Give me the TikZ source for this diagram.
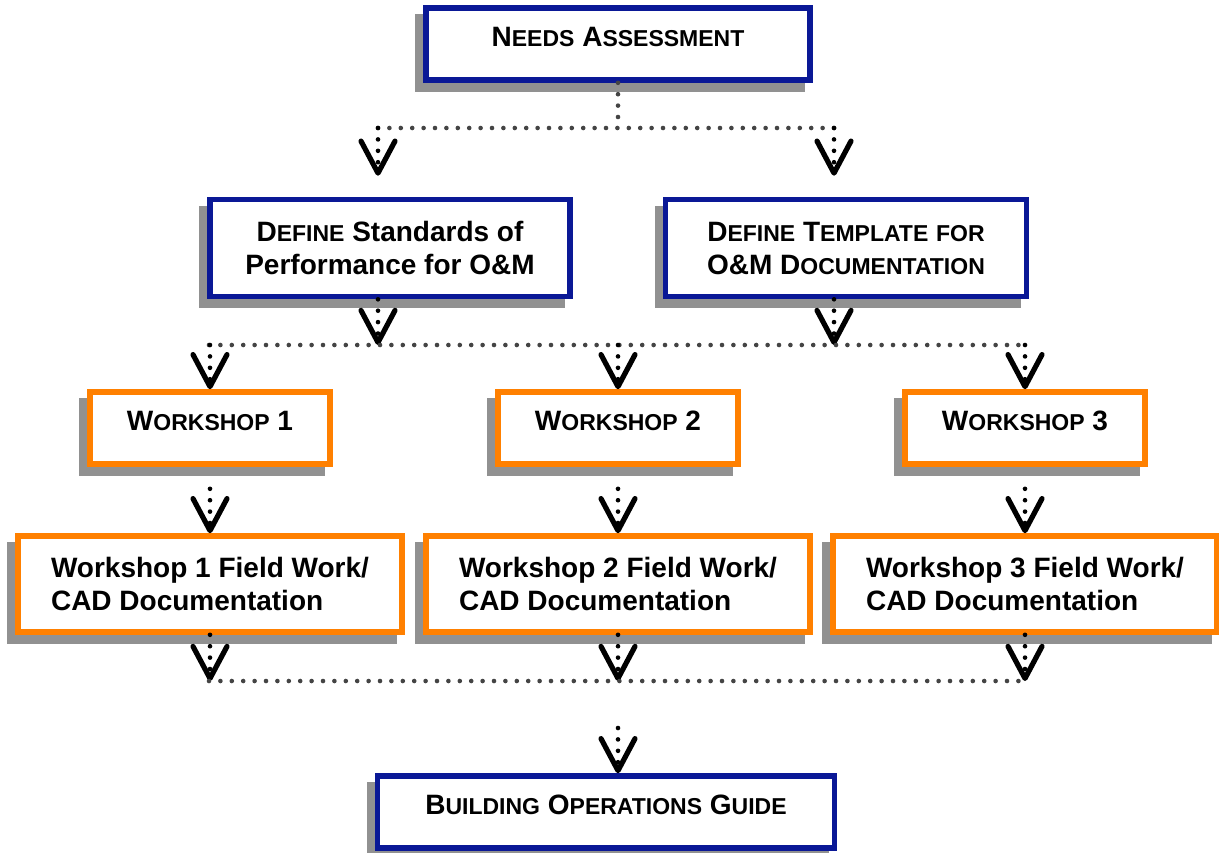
\documentclass[tikz,border=0pt]{standalone}
\usepackage{fontspec}
\setmainfont{Liberation Sans}
\usetikzlibrary{arrows.meta}

\definecolor{navy}{RGB}{10,24,150}
\definecolor{amber}{RGB}{255,128,0}
\definecolor{shade}{RGB}{145,145,145}
\definecolor{dotgray}{RGB}{68,68,68}

% fake small caps: big initial, smaller rest
\newcommand{\smc}[2]{{\fontsize{14}{16.5}\selectfont #1}{\fontsize{11.5}{16.5}\selectfont #2}}

\tikzset{
  box/.style={draw, line width=2.8pt, fill=white, inner sep=0pt, align=center,
    font=\bfseries\fontsize{14}{16.5}\selectfont,
    preaction={draw=shade, fill=shade, transform canvas={shift={(-4pt,-4.5pt)}}}},
  bluebox/.style={box, draw=navy},
  orangebox/.style={box, draw=amber},
  oneline/.style={text depth=7pt},
  dots/.style={line width=2.3pt, line cap=round, dash pattern=on 0pt off 5.7pt, dotgray},
  flow/.style={dots, black, -{Straight Barb[length=16pt, width=17pt, line width=2.6pt, round]}},
}

\begin{document}
\begin{tikzpicture}[x=0.5pt, y=-0.5pt]
  \useasboundingbox (0,0) rectangle (1219,852);

  % Boxes.
  \node[bluebox, oneline, minimum width=192pt, minimum height=36pt] (needs) at (618,44)
    {\smc{N}{EEDS} \smc{A}{SSESSMENT}};
  \node[bluebox, minimum width=180pt, minimum height=48.5pt] (stds) at (390,248)
    {\smc{D}{EFINE} Standards of\\Performance for O\&M};
  \node[bluebox, minimum width=180.5pt, minimum height=48.5pt] (tmpl) at (846,248)
    {\smc{D}{EFINE} \smc{T}{EMPLATE} {\fontsize{11.5}{16.5}\selectfont FOR}\\O\&M \smc{D}{OCUMENTATION}};
  \foreach \n/\x in {1/210, 2/618, 3/1025} {
    \node[orangebox, oneline, minimum width=120pt, minimum height=36pt] (w\n) at (\x,428)
      {\smc{W}{ORKSHOP} \n};
    \node[orangebox, align=left, minimum width=192pt, minimum height=48pt] (fw\n) at (\x,584)
      {Workshop \n\ Field Work/\\CAD Documentation};
  }
  \node[bluebox, oneline, minimum width=228.5pt, minimum height=36pt] (bog) at (606,812)
    {\smc{B}{UILDING} \smc{O}{PERATIONS} \smc{G}{UIDE}};

  % Junctions.
  \coordinate (j1l) at (378,128);
  \coordinate (j1r) at (834,128);
  \coordinate (j2a) at (209,345);
  \coordinate (j2c) at (1025,345);
  \coordinate (j3a) at (209,681);
  \coordinate (j3c) at (1025,681);
  \coordinate (j4) at (618,728);

  % Connectors.
  \draw[dots] (needs.south) -- (needs.south |- j1l);
  \draw[dots] (j1l) -- (j1r);
  \draw[flow, shorten >=10.5pt] (j1l) -- (j1l |- stds.north);
  \draw[flow, shorten >=10.5pt] (j1r) -- (j1r |- tmpl.north);
  \draw[flow] (j1l |- stds.south) -- (j1l |- j2a);
  \draw[flow] (j1r |- tmpl.south) -- (j1r |- j2a);
  \draw[dots] (j2a) -- (j2c);
  \foreach \n in {1,2,3} {
    \draw[flow] (w\n.north |- j2a) -- (w\n.north);
    \draw[flow] ([yshift=-11pt]w\n.south) -- (w\n.south |- fw\n.north);
    \draw[flow] (fw\n.south) -- (fw\n.south |- j3a);
  }
  \draw[dots] (j3a) -- (j3c);
  \draw[flow] (j4) -- (j4 |- bog.north);

\end{tikzpicture}
\end{document}
